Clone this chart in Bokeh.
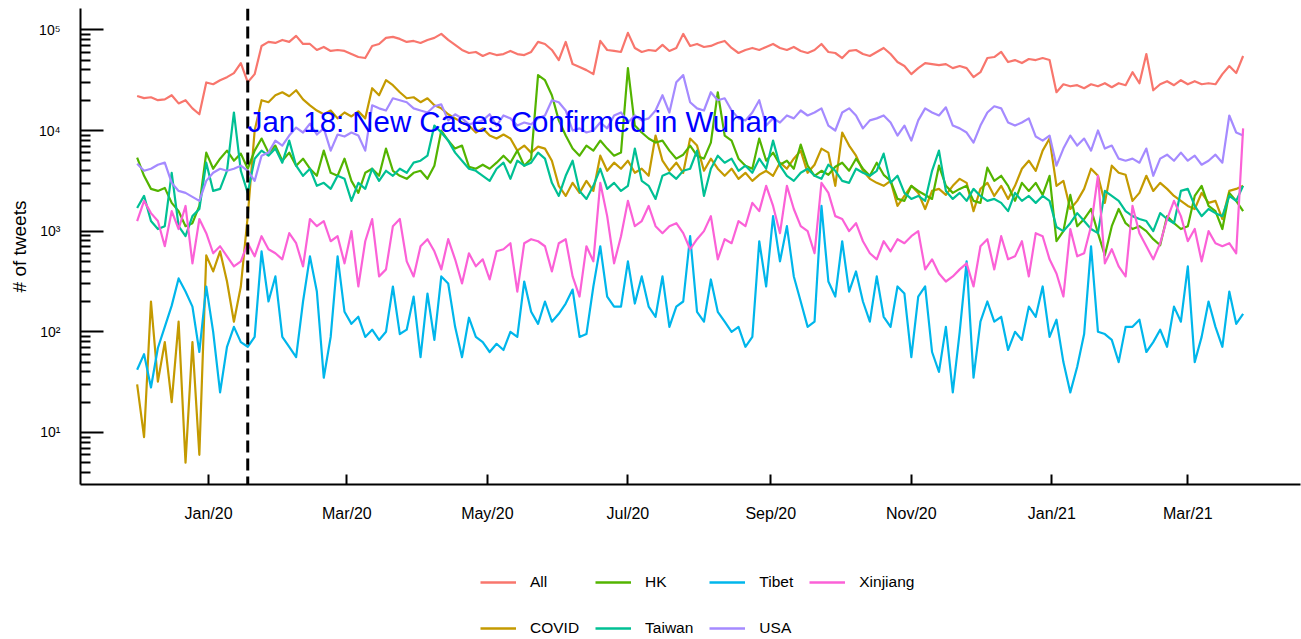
import pandas as pd
from bokeh.plotting import figure
from bokeh.layouts import column
from bokeh.models import (ColumnDataSource, Range1d, FixedTicker, Span, Label,
                          Legend, LegendItem, DatetimeTickFormatter)
from bokeh.embed import file_html
from bokeh.resources import INLINE

START_DATE = "2019-12-01"
N_POINTS = 161

ALL = [22000, 21000, 21400, 20000, 20400, 22400, 18600, 20000, 16600, 14500,
       30000, 28800, 31600, 33900, 37200, 46800, 30200, 36300, 69200, 75900,
       74100, 79400, 75900, 87100, 72400, 72400, 63100, 67600, 61700, 63100,
       61700, 57500, 53700, 52500, 69200, 72400, 83200, 85100, 81300, 75900,
       77600, 74100, 79400, 83200, 91200, 79400, 70800, 63100, 58900, 60300,
       55000, 58900, 56200, 57500, 61700, 57500, 56200, 60300, 75900, 72400,
       63100, 50100, 75900, 45700, 42700, 39800, 36300, 77600, 63100, 61700,
       60300, 93300, 66100, 60300, 63100, 61700, 70800, 61700, 66100, 91200,
       69200, 72400, 67600, 69200, 74100, 77600, 66100, 58900, 63100, 66100,
       63100, 67600, 72400, 66100, 63100, 67600, 61700, 58900, 63100, 72400,
       60300, 58900, 52500, 61700, 63100, 57500, 55000, 60300, 66100, 57500,
       47900, 43700, 36300, 41700, 46800, 45700, 44700, 45700, 41700, 43700,
       41700, 33900, 38000, 52500, 53700, 60300, 47900, 50100, 46800, 51300,
       50100, 52500, 50100, 24000, 28800, 27500, 28200, 26300, 28800, 27500,
       29500, 26900, 29500, 28200, 38000, 29500, 57500, 25100, 28800, 30900,
       28200, 31600, 28800, 30900, 28800, 29500, 28800, 36300, 43700, 37200,
       55000]

COVID = [30, 9, 200, 32, 79, 20, 126, 5, 79, 6,
         575, 398, 631, 316, 126, 282, 1410, 10000, 20000, 19100,
         22400, 24000, 21900, 25100, 20400, 17800, 15800, 14500, 15800, 13200,
         15100, 13800, 15500, 13200, 26300, 22400, 31600, 28200, 24000, 20900,
         21400, 19100, 20900, 17800, 16600, 14500, 13200, 12000, 11200, 9550,
         10500, 8910, 8320, 9120, 8320, 6310, 7080, 6030, 6920, 6610,
         5010, 2820, 2240, 3020, 2400, 3160, 2510, 5620, 3980, 4790,
         4170, 5010, 3800, 4170, 3550, 8910, 5010, 3980, 4790, 3800,
         8320, 7080, 3980, 5250, 4170, 3550, 4170, 3310, 3800, 3160,
         3630, 3980, 3550, 4790, 4170, 5250, 6310, 3800, 4570, 6610,
         6030, 2820, 9550, 7080, 5620, 3980, 3310, 3020, 2820, 3160,
         1780, 2240, 2820, 2400, 1660, 2510, 2630, 2290, 2820, 3310,
         3020, 1580, 2630, 3020, 2240, 2820, 2090, 2820, 4170, 5010,
         3980, 6310, 8320, 2820, 3160, 1660, 2000, 2630, 4170, 3550,
         1910, 4470, 3800, 3630, 2000, 2400, 3550, 2510, 3020, 2630,
         2240, 2000, 1780, 1660, 2400, 1910, 2000, 1320, 2510, 2630,
         2820]

HK = [5370, 3550, 2630, 2510, 2690, 1910, 1580, 1120, 1200, 1780,
      6030, 4170, 5250, 6310, 5010, 5890, 4170, 6310, 8320, 6030,
      7080, 5010, 6030, 4470, 5250, 4170, 3550, 6310, 3800, 3550,
      5250, 3160, 2400, 3800, 4170, 3550, 6610, 3980, 3550, 3310,
      3800, 3980, 3310, 4470, 10000, 7940, 6610, 7080, 4370, 4170,
      4570, 4170, 4790, 5620, 4790, 6310, 4470, 5250, 35500, 31600,
      22400, 12600, 8910, 6610, 5620, 7080, 6310, 7940, 6610, 5620,
      6030, 41700, 11200, 9550, 8320, 7590, 7940, 6310, 5250, 5750,
      7080, 5620, 5250, 7590, 24000, 8910, 7940, 5250, 4470, 4170,
      8320, 5010, 6030, 4570, 5010, 4170, 7240, 4470, 3550, 3980,
      3630, 4370, 4790, 3980, 5250, 4170, 3550, 4790, 3630, 3160,
      2090, 2000, 2820, 2510, 2290, 2090, 4470, 2820, 2400, 2630,
      2820, 2000, 1910, 4270, 3160, 3550, 2820, 2000, 3020, 2510,
      3020, 2290, 3550, 794, 1000, 2290, 1120, 1320, 1660, 955,
      575, 1120, 1660, 1200, 1050, 1120, 1000, 832, 724, 1410,
      1200, 1050, 1120, 2240, 2820, 1780, 1580, 1050, 2400, 2000,
      1580]

TAIWAN = [1700, 2240, 1260, 1050, 1120, 3800, 1120, 891, 1410, 1660,
          4790, 2510, 2630, 3980, 15100, 3980, 2400, 5250, 6310, 5620,
          6610, 4790, 7940, 4470, 3550, 4170, 2820, 3020, 2630, 3550,
          3310, 2000, 3020, 2630, 4170, 3160, 3980, 3550, 4170, 3800,
          4790, 5010, 5620, 11200, 9550, 7940, 6030, 5010, 4170, 3980,
          3550, 3160, 4170, 4790, 3310, 5010, 4470, 4790, 6030, 5250,
          3020, 2240, 3550, 5010, 2510, 2090, 2820, 4170, 2630, 3020,
          2510, 2820, 6610, 3160, 2820, 2090, 3550, 3800, 3310, 3980,
          4170, 6310, 2240, 4170, 5620, 4790, 5250, 3980, 4470, 3800,
          5250, 4170, 7940, 4470, 3550, 3160, 3800, 4170, 3550, 3310,
          4570, 3980, 3160, 3020, 4170, 3800, 3550, 3980, 5890, 3020,
          3550, 2400, 2090, 2240, 2000, 3980, 6310, 2510, 2090, 2400,
          2000, 2630, 2240, 2000, 2090, 1910, 1580, 2400, 2000, 2240,
          1910, 2240, 2000, 1100, 1000, 1200, 1510, 1260, 1050, 955,
          2510, 2240, 2000, 1580, 1410, 1320, 1260, 1000, 1510, 1320,
          1200, 2510, 2630, 1780, 1410, 1660, 1510, 1410, 2240, 2000,
          2820]

TIBET = [42, 60, 28, 69, 112, 182, 339, 251, 178, 63,
         282, 100, 25, 71, 112, 79, 71, 89, 631, 200,
         355, 89, 71, 56, 200, 562, 251, 35, 89, 562,
         158, 120, 141, 89, 105, 83, 100, 282, 95, 105,
         224, 56, 240, 83, 355, 302, 112, 56, 138, 89,
         79, 63, 76, 66, 100, 89, 316, 158, 120, 200,
         126, 151, 191, 263, 89, 95, 282, 708, 224, 178,
         178, 501, 191, 355, 178, 141, 355, 112, 178, 200,
         891, 158, 126, 331, 158, 126, 100, 112, 71, 89,
         794, 282, 1410, 501, 1120, 355, 200, 112, 126, 1780,
         316, 224, 794, 251, 398, 200, 126, 355, 141, 112,
         282, 240, 56, 224, 282, 63, 40, 112, 25, 100,
         501, 35, 126, 200, 126, 141, 66, 100, 83, 178,
         141, 282, 89, 132, 50, 25, 45, 95, 708, 100,
         95, 83, 50, 112, 112, 132, 63, 79, 105, 71,
         178, 126, 447, 50, 89, 200, 112, 71, 251, 120,
         151]

USA = [4680, 3980, 4170, 4570, 4790, 3020, 2510, 2400, 2190, 2000,
       3160, 3800, 4170, 3980, 4170, 4470, 3980, 3160, 5620, 6030,
       7940, 7080, 8910, 10700, 9550, 11700, 9120, 10500, 6310, 9120,
       8710, 9550, 8910, 6310, 17800, 16600, 15800, 20900, 20000, 19100,
       16600, 15800, 15100, 17400, 18200, 12600, 14500, 13200, 11500, 12000,
       12600, 14500, 11200, 14100, 13200, 11200, 12000, 11500, 13200, 14100,
       20000, 19100, 15800, 10000, 10500, 9550, 10000, 12000, 10500, 14100,
       15100, 12000, 14100, 12600, 13200, 15800, 22400, 15100, 30200, 35500,
       19100, 16600, 15800, 24000, 20000, 20900, 15800, 13200, 12600, 15100,
       20000, 11200, 13200, 12000, 14100, 13200, 15800, 14100, 15100, 16600,
       11200, 10000, 15100, 16600, 14100, 10500, 12600, 13200, 14100, 12000,
       8910, 11200, 7940, 12600, 16600, 15100, 14100, 17000, 11200, 10500,
       9550, 7590, 11200, 15100, 17400, 16600, 12000, 11200, 12000, 13200,
       8710, 7940, 8910, 4470, 6610, 8910, 7080, 8320, 6310, 10000,
       6610, 7080, 5250, 5010, 5250, 4790, 6610, 3550, 5250, 5750,
       5010, 6030, 5010, 5620, 4570, 5010, 5750, 4790, 14100, 9550,
       8910]

XINJIANG = [1260, 2000, 1510, 1260, 708, 1580, 1050, 1780, 479, 1320,
            955, 603, 708, 562, 447, 501, 759, 562, 891, 661,
            603, 525, 955, 759, 447, 1320, 1120, 1260, 794, 891,
            479, 1000, 282, 794, 1320, 355, 417, 1120, 1320, 501,
            355, 708, 832, 631, 417, 832, 525, 302, 603, 447,
            525, 331, 631, 661, 759, 251, 759, 832, 794, 708,
            398, 759, 832, 355, 224, 708, 501, 3020, 1410, 479,
            891, 2000, 1120, 1260, 1780, 1120, 955, 1120, 1200, 955,
            661, 832, 1000, 1410, 525, 832, 759, 1260, 1120, 1910,
            1580, 2820, 1780, 955, 2820, 1660, 1120, 1000, 603, 3020,
            2400, 1410, 1320, 1000, 1200, 794, 603, 525, 794, 631,
            832, 759, 891, 1000, 417, 525, 380, 316, 355, 417,
            479, 282, 708, 832, 417, 891, 525, 562, 794, 355,
            955, 891, 525, 380, 224, 1050, 562, 603, 1120, 3550,
            479, 661, 447, 355, 1780, 955, 708, 525, 759, 1320,
            2000, 1410, 794, 1050, 501, 1000, 759, 708, 759, 603,
            10500]

SERIES = ["All", "COVID", "HK", "Taiwan", "Tibet", "USA", "Xinjiang"]
VALUES = [ALL, COVID, HK, TAIWAN, TIBET, USA, XINJIANG]
COLORS = ["#F8766D", "#C49A00", "#53B400", "#00C094", "#00B6EB", "#A58AFF", "#FB61D7"]

X_TICK_DATES = ["2020-01-01", "2020-03-01", "2020-05-01", "2020-07-01",
                "2020-09-01", "2020-11-01", "2021-01-01", "2021-03-01"]
X_TICK_LABELS = ["Jan/20", "Mar/20", "May/20", "Jul/20",
                 "Sep/20", "Nov/20", "Jan/21", "Mar/21"]
Y_TICKS = [10, 100, 1000, 10000, 100000]
Y_TICK_LABELS = ["10\u00b9", "10\u00b2", "10\u00b3", "10\u2074", "10\u2075"]
EVENT_DATE = "2020-01-18"
EVENT_TEXT = "Jan 18: New Cases Confirmed in Wuhan"

# ---------------- figure ----------------
FONT = "Liberation Sans"
MAIN_H = 530
LEG_H = 109


def ms(d):
    return pd.Timestamp(d).value / 1e6


n = min(N_POINTS, *[len(v) for v in VALUES])
dates = pd.date_range(START_DATE, periods=N_POINTS, freq="3D")[:n]
data = {"date": dates}
for name, vals in zip(SERIES, VALUES):
    data[name] = vals[:n]
src = ColumnDataSource(data)

x_start = pd.Timestamp("2019-11-06 10:00")
x_end = x_start + pd.Timedelta(days=529.49)

p = figure(width=1301, height=MAIN_H, x_axis_type="datetime", y_axis_type="log",
           x_range=Range1d(ms(x_start), ms(x_end)), y_range=Range1d(3.04, 163000),
           output_backend="svg", toolbar_location=None,
           min_border_left=80, min_border_right=1, min_border_top=8,
           min_border_bottom=MAIN_H - 484)
p.outline_line_color = None
p.xgrid.visible = False
p.ygrid.visible = False
p.background_fill_color = "white"

for name, color in zip(SERIES, COLORS):
    p.line(x="date", y=name, source=src, line_color=color, line_width=2.2,
           line_join="round")

# event marker
p.add_layout(Span(location=ms(EVENT_DATE), dimension="height", line_color="black",
                  line_width=3, line_dash="12 6"))
p.add_layout(Label(x=ms(EVENT_DATE), y=12300, text=EVENT_TEXT, text_color="#0000FF",
                   text_font=FONT, text_font_size="29.4px", text_align="left",
                   text_baseline="alphabetic"))

# x axis
xt = [ms(d) for d in X_TICK_DATES]
p.xaxis.ticker = FixedTicker(ticks=xt, minor_ticks=[])
p.xaxis.formatter = DatetimeTickFormatter(days="%b/%y", months="%b/%y", years="%b/%y")
p.xaxis.major_label_overrides = {t: lab for t, lab in zip(xt, X_TICK_LABELS)}
p.xaxis.major_tick_in = 10
p.xaxis.major_tick_out = 0
p.xaxis.minor_tick_in = 0
p.xaxis.minor_tick_out = 0
p.xaxis.major_label_standoff = 20
p.xaxis.major_label_text_font = FONT
p.xaxis.major_label_text_font_size = "16px"
p.xaxis.major_label_text_color = "black"

# y axis
minor = [m * 10 ** e for e in range(0, 6) for m in range(2, 10)]
p.yaxis.ticker = FixedTicker(ticks=Y_TICKS, minor_ticks=minor)
p.yaxis.major_label_overrides = {t: lab for t, lab in zip(Y_TICKS, Y_TICK_LABELS)}
p.yaxis.major_tick_in = 23
p.yaxis.major_tick_out = 0
p.yaxis.minor_tick_in = 10
p.yaxis.minor_tick_out = 0
p.yaxis.major_label_standoff = 20
p.yaxis.major_label_text_font = FONT
p.yaxis.major_label_text_font_size = "14px"
p.yaxis.major_label_text_color = "black"
p.yaxis.axis_label = "# of tweets"
p.yaxis.axis_label_text_font = FONT
p.yaxis.axis_label_text_font_size = "19px"
p.yaxis.axis_label_text_font_style = "normal"
p.yaxis.axis_label_text_color = "black"
p.yaxis.axis_label_standoff = 6

for ax in (p.xaxis, p.yaxis):
    ax.axis_line_color = "black"
    ax.axis_line_width = 2
    ax.major_tick_line_color = "black"
    ax.major_tick_line_width = 2
    ax.minor_tick_line_color = "black"
    ax.minor_tick_line_width = 2

# legend strip below the chart (proxy lines carry each series' style)
lf = figure(width=1301, height=LEG_H, output_backend="svg", toolbar_location=None,
            x_range=Range1d(0, 1), y_range=Range1d(0, 1),
            min_border_left=0, min_border_right=0, min_border_top=0, min_border_bottom=0)
lf.axis.visible = False
lf.grid.visible = False
lf.outline_line_color = None
proxies = [lf.line(x=[-5, -4], y=[-5, -4], line_color=c, line_width=2.4) for c in COLORS]
items = [LegendItem(label=name, renderers=[r]) for name, r in zip(SERIES, proxies)]
legend = Legend(items=items, orientation="vertical", nrows=2, location=(400, -4),
                glyph_width=36, glyph_height=30, label_height=30, label_standoff=14,
                spacing=16, padding=0, margin=0,
                label_text_font=FONT, label_text_font_size="15.5px",
                label_text_color="black",
                border_line_color=None, background_fill_alpha=0)
lf.add_layout(legend)

layout = column(p, lf, spacing=0)

with open("out.html", "w", encoding="utf-8") as f:
    f.write(file_html(layout, INLINE))
